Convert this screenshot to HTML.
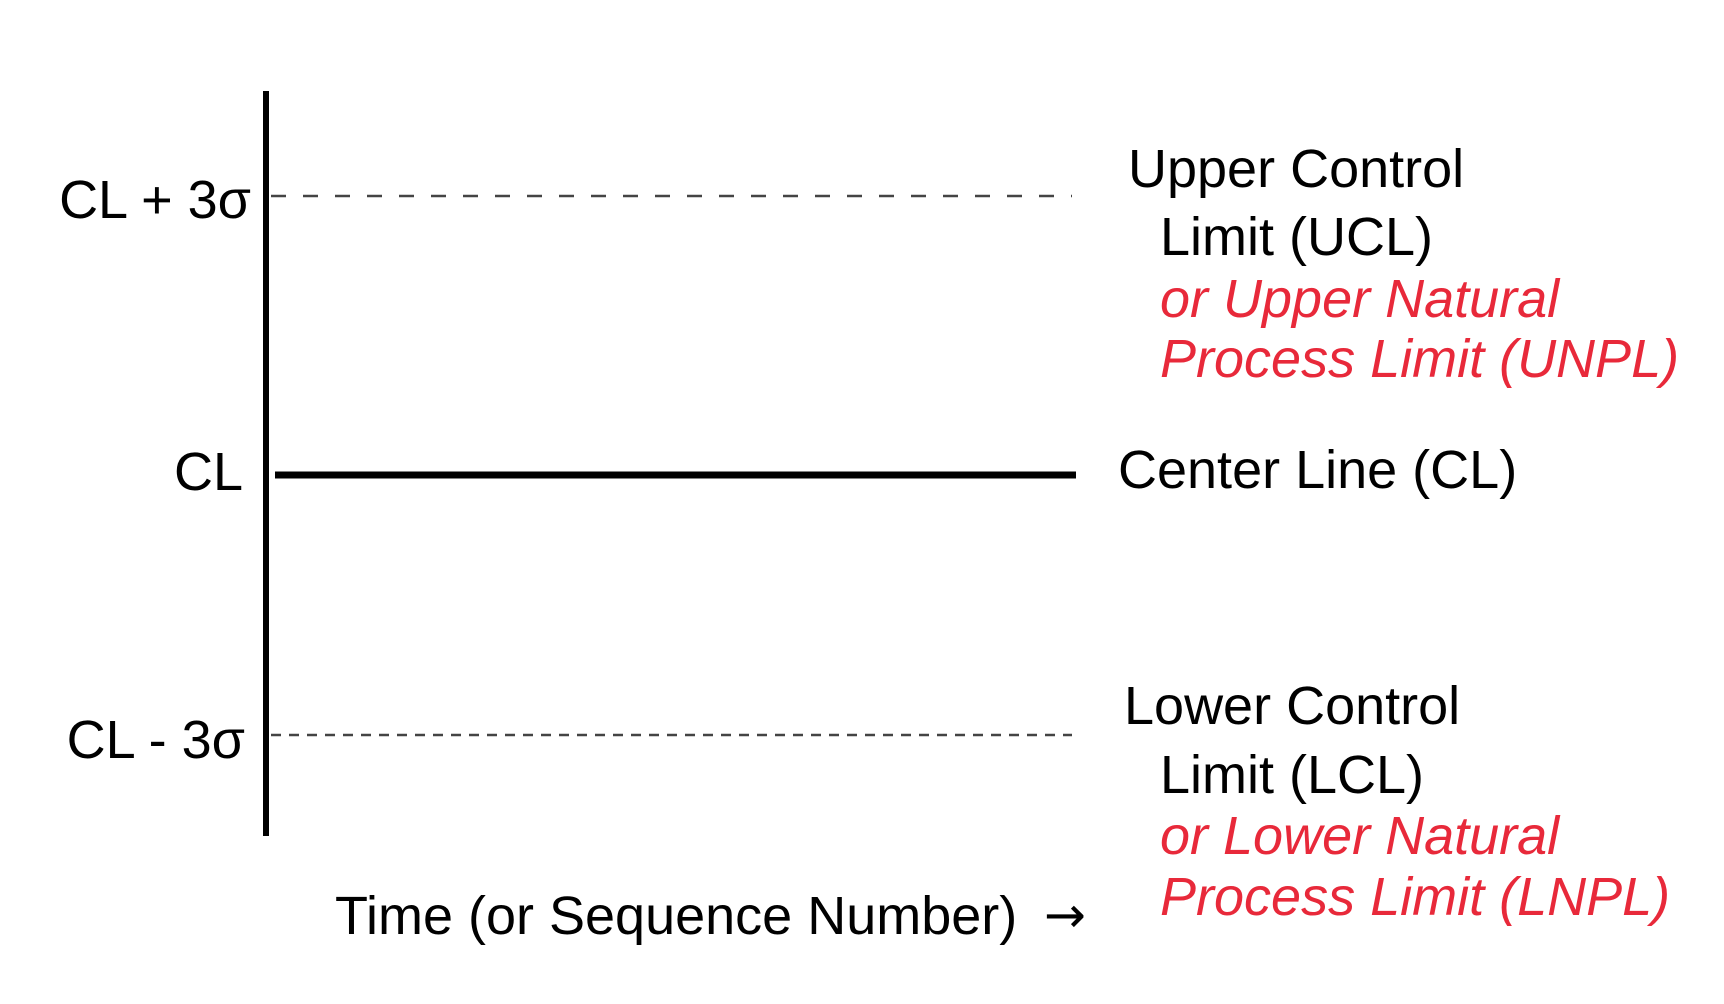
<!DOCTYPE html>
<html><head><meta charset="utf-8"><style>
html,body{margin:0;padding:0;background:#fff;}
svg{display:block;}
text{font-family:"Liberation Sans",Arial,sans-serif;font-size:54px;fill:#000;}
.r{fill:#e8293a;font-style:italic;}
</style></head><body>
<svg width="1724" height="1004" viewBox="0 0 1724 1004" xmlns="http://www.w3.org/2000/svg">
<rect width="1724" height="1004" fill="#fff"/>
<line x1="266" y1="91" x2="266" y2="836" stroke="#000" stroke-width="6"/>
<line x1="271" y1="196" x2="1072" y2="196" stroke="#444" stroke-width="2.5" stroke-dasharray="15,17"/>
<line x1="271" y1="735" x2="1072" y2="735" stroke="#444" stroke-width="2.5" stroke-dasharray="10,8"/>
<line x1="275" y1="475" x2="1076" y2="475" stroke="#000" stroke-width="7"/>
<text x="251" y="218" text-anchor="end">CL + 3σ</text>
<text x="243" y="490" text-anchor="end">CL</text>
<text x="245" y="758" text-anchor="end">CL - 3σ</text>
<text x="1128" y="187">Upper Control</text>
<text x="1160" y="255">Limit (UCL)</text>
<text x="1160" y="317" class="r">or Upper Natural</text>
<text x="1160" y="377" class="r">Process Limit (UNPL)</text>
<text x="1118" y="488">Center Line (CL)</text>
<text x="1124" y="724">Lower Control</text>
<text x="1160" y="793">Limit (LCL)</text>
<text x="1160" y="854" class="r">or Lower Natural</text>
<text x="1160" y="915" class="r">Process Limit (LNPL)</text>
<text x="335" y="934">Time (or Sequence Number)</text>
<text x="1044" y="932" style="font-family:'DejaVu Sans',sans-serif;font-size:50px">→</text>
</svg>
</body></html>
